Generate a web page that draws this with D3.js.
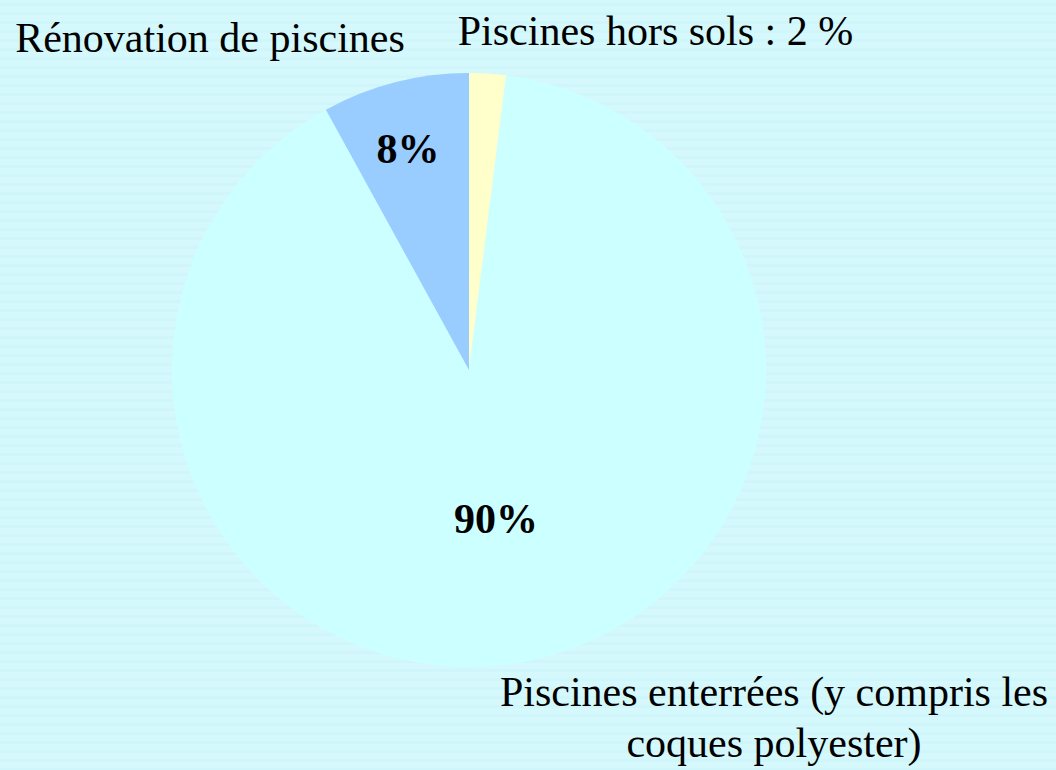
<!DOCTYPE html>
<html><head><meta charset="utf-8">
<script src="https://cdn.jsdelivr.net/npm/d3@7"></script>
<style>html,body{margin:0;padding:0;overflow:hidden;background:#d3f8fb;}</style>
</head><body>
<script>
const categories = ["Piscines hors sols", "Piscines enterrées (y compris les coques polyester)", "Rénovation de piscines"];
const values = [2, 90, 8];
const colors = ["#FFFFCC", "#CCFFFF", "#99CCFF"];
const outerLabels = [["Piscines hors sols : 2 %"], ["Piscines enterrées (y compris les", "coques polyester)"], ["Rénovation de piscines"]];
const innerLabels = ["", "90%", "8%"];

const W = 1056, H = 770;
const svg = d3.select("body").append("svg").attr("width", W).attr("height", H);
const defs = svg.append("defs");
const pat = defs.append("pattern").attr("id","stripes").attr("patternUnits","userSpaceOnUse").attr("width",W).attr("height",9);
pat.append("rect").attr("width",W).attr("height",9).attr("fill","#d4f8fb");
pat.append("rect").attr("y",3).attr("width",W).attr("height",3).attr("fill","#cff6fa");
pat.append("rect").attr("y",7).attr("width",W).attr("height",1).attr("fill","#d8f9fc");
svg.append("rect").attr("width",W).attr("height",H).attr("fill","url(#stripes)");

const cx = 469, cy = 370, R = 297;
const pie = d3.pie().sort(null).value(d => d);
const arcs = pie(values);
const arc = d3.arc().innerRadius(0).outerRadius(R);
const g = svg.append("g").attr("transform", `translate(${cx},${cy})`);
g.selectAll("path").data(arcs).join("path").attr("d", arc).attr("fill", (d,i) => colors[i]);

const font = "'Liberation Serif','Times New Roman',serif";
// inner labels
const inner = [{i:2, x:408-cx, y:163-cy}, {i:1, x:496-cx, y:533-cy}];
inner.forEach(o => {
  g.append("text").attr("x", o.x).attr("y", o.y).attr("text-anchor","middle")
   .attr("font-family", font).attr("font-weight","bold").attr("font-size", 42).text(innerLabels[o.i]);
});
// outer labels
const outer = [
  {i:0, x:655.5, y:45, lh:0},
  {i:2, x:210, y:52, lh:0},
  {i:1, x:774, y:706, lh:51}
];
outer.forEach(o => {
  const t = svg.append("text").attr("text-anchor","middle").attr("font-family", font).attr("font-size", 42).attr("fill","#000");
  outerLabels[o.i].forEach((line, k) => t.append("tspan").attr("x", o.x).attr("y", o.y + k*o.lh).text(line));
});
</script>
</body></html>
